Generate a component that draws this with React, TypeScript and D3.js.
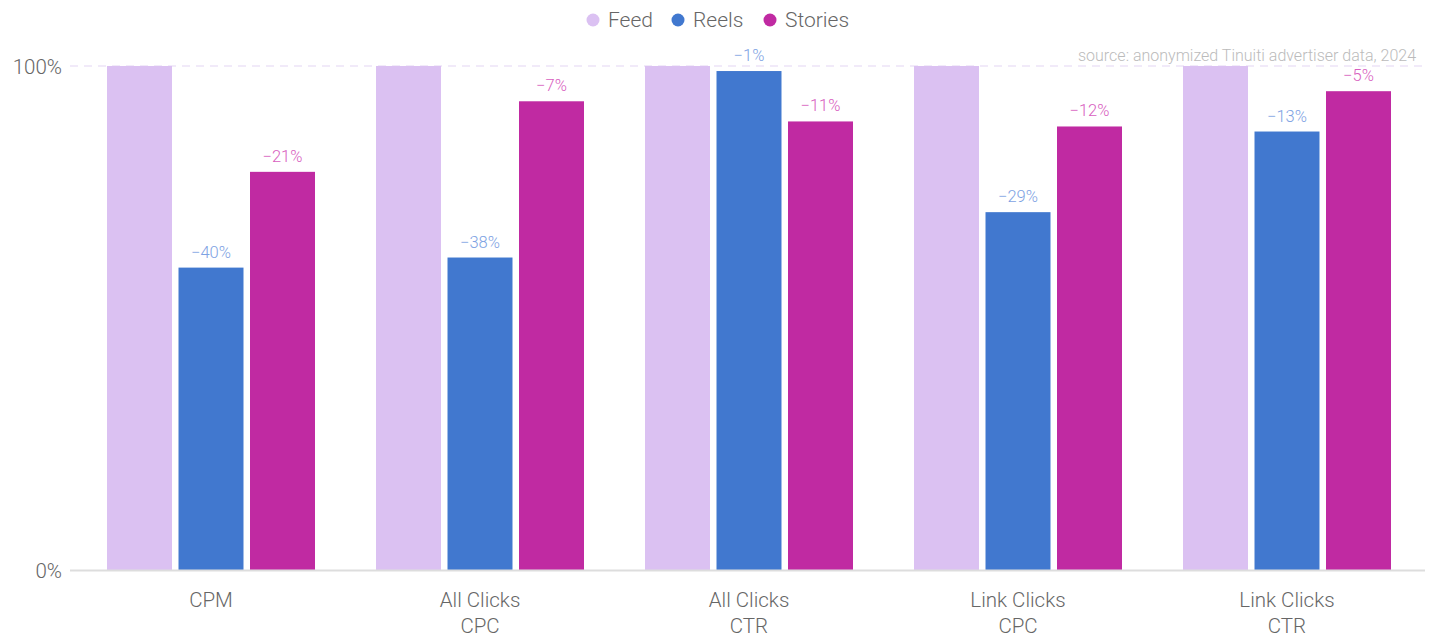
import React from "react";
import * as d3 from "d3";

const categories: string[][] = [
  ["CPM"],
  ["All Clicks", "CPC"],
  ["All Clicks", "CTR"],
  ["Link Clicks", "CPC"],
  ["Link Clicks", "CTR"],
];
const seriesNames = ["Feed", "Reels", "Stories"];
const feedValues = [100, 100, 100, 100, 100];
const reelsValues = [60, 62, 99, 71, 87];
const storiesValues = [79, 93, 89, 88, 95];
const reelsLabels = ["−40%", "−38%", "−1%", "−29%", "−13%"];
const storiesLabels = ["−21%", "−7%", "−11%", "−12%", "−5%"];
const yTicks = [0, 100];

const colors: Record<string, string> = {
  Feed: "#dbc1f2",
  Reels: "#4178cf",
  Stories: "#c02aa2",
};
const labelColors: Record<string, string> = {
  Reels: "#7ea2e3",
  Stories: "#d85ec0",
};

const W = 1434;
const H = 634;
const FONT = "Roboto, 'Noto Sans', sans-serif";

export default function App() {
  const catKeys = categories.map((c) => c.join(" "));
  const x0 = d3
    .scaleBand<string>()
    .domain(catKeys)
    .range([76.5, 1421.5])
    .paddingInner(0.2268)
    .paddingOuter(0.1134);
  const x1 = d3
    .scaleBand<string>()
    .domain(seriesNames)
    .range([0, x0.bandwidth()])
    .paddingInner(0.091)
    .paddingOuter(0);
  const y = d3.scaleLinear().domain([0, 100]).range([570, 66]);

  const data: Record<string, number[]> = {
    Feed: feedValues,
    Reels: reelsValues,
    Stories: storiesValues,
  };
  const labels: Record<string, string[] | null> = {
    Feed: null,
    Reels: reelsLabels,
    Stories: storiesLabels,
  };

  const legendX = [593, 678, 770];

  return (
    <svg
      width={W}
      height={H}
      style={{ position: "absolute", left: 0, top: 0, fontFamily: FONT }}
    >
      <rect width={W} height={H} fill="#fff" />
      {/* gridline at 100% */}
      <line
        x1={70}
        x2={1425}
        y1={y(100)}
        y2={y(100)}
        stroke="#ede3f8"
        strokeWidth={1.5}
        strokeDasharray="8,6"
      />
      {/* source */}
      <text
        x={1416}
        y={61}
        textAnchor="end"
        fontSize={16}
        fontWeight={300}
        fill="#bbbbbb"
      >
        source: anonymized Tinuiti advertiser data, 2024
      </text>
      {/* bars */}
      {catKeys.map((ck, i) => (
        <g key={ck} transform={`translate(${x0(ck)},0)`}>
          {seriesNames.map((s) => {
            const v = data[s][i];
            const bx = x1(s)!;
            const lab = labels[s];
            return (
              <g key={s}>
                <rect
                  x={bx}
                  y={y(v)}
                  width={x1.bandwidth()}
                  height={y(0) - y(v)}
                  fill={colors[s]}
                />
                {lab && (
                  <text
                    x={bx + x1.bandwidth() / 2}
                    y={y(v) - 10}
                    textAnchor="middle"
                    fontSize={16.5}
                    fontWeight={300}
                    fill={labelColors[s]}
                  >
                    {lab[i]}
                  </text>
                )}
              </g>
            );
          })}
        </g>
      ))}
      {/* x axis line */}
      <line x1={70} x2={1425} y1={570.5} y2={570.5} stroke="#dddddd" strokeWidth={2} />
      {/* y ticks */}
      {yTicks.map((t) => (
        <text
          key={t}
          x={62}
          y={y(t) + 8}
          textAnchor="end"
          fontSize={20.5}
          fontWeight={300}
          fill="#666"
        >
          {t}%
        </text>
      ))}
      {/* x category labels */}
      {categories.map((c, i) => (
        <text
          key={i}
          x={x0(catKeys[i])! + x0.bandwidth() / 2}
          textAnchor="middle"
          fontSize={20.5}
          fontWeight={300}
          fill="#666"
        >
          {c.map((line, j) => (
            <tspan key={j} x={x0(catKeys[i])! + x0.bandwidth() / 2} y={607 + j * 26}>
              {line}
            </tspan>
          ))}
        </text>
      ))}
      {/* legend */}
      {seriesNames.map((s, i) => (
        <g key={s}>
          <circle cx={legendX[i]} cy={20} r={6.5} fill={colors[s]} />
          <text x={legendX[i] + 15} y={27} fontSize={21} fontWeight={300} fill="#666">
            {s}
          </text>
        </g>
      ))}
    </svg>
  );
}
